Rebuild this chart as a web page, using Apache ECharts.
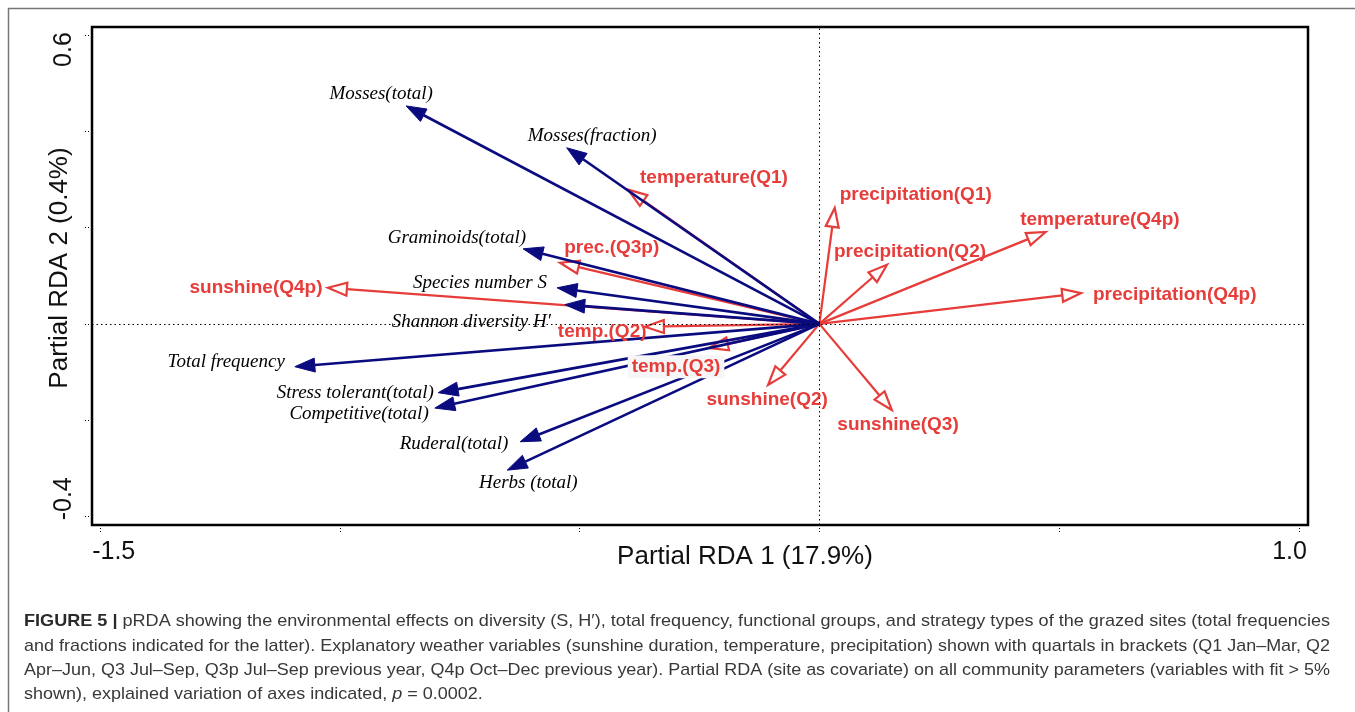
<!DOCTYPE html>
<html>
<head>
<meta charset="utf-8">
<script src="https://cdn.jsdelivr.net/npm/echarts@6/dist/echarts.min.js"></script>
<style>
html,body{margin:0;padding:0;background:#fff;}
#c{width:1355px;height:712px;}
</style>
</head>
<body>
<div id="c"></div>
<script>
// ---------- data ----------
const speciesNames = ['Mosses(total)','Mosses(fraction)','Graminoids(total)','Species number S','Shannon diversity H\u2032','Total frequency','Stress tolerant(total)','Competitive(total)','Ruderal(total)','Herbs (total)'];
const speciesX = [-0.862,-0.527,-0.618,-0.547,-0.531,-1.094,-0.795,-0.802,-0.624,-0.651];
const speciesY = [0.453,0.366,0.156,0.075,0.040,-0.089,-0.143,-0.175,-0.245,-0.304];
const speciesLabelX = [-0.914,-0.474,-0.756,-0.708,-0.726,-1.237,-0.968,-0.960,-0.762,-0.607];
const speciesLabelY = [0.478,0.391,0.179,0.085,0.004,-0.079,-0.143,-0.187,-0.250,-0.331];

const envNames = ['temperature(Q1)','prec.(Q3p)','sunshine(Q4p)','temp.(Q2)','temp.(Q3)','sunshine(Q2)','sunshine(Q3)','precipitation(Q1)','precipitation(Q2)','temperature(Q4p)','precipitation(Q4p)'];
const envX = [-0.399,-0.541,-1.025,-0.364,-0.230,-0.107,0.151,0.032,0.141,0.472,0.546];
const envY = [0.279,0.127,0.075,-0.006,-0.050,-0.127,-0.179,0.241,0.123,0.191,0.064];
const envLabelX = [-0.220,-0.433,-1.175,-0.453,-0.299,-0.109,0.164,0.201,0.189,0.585,0.741];
const envLabelY = [0.303,0.158,0.075,-0.017,-0.089,-0.158,-0.209,0.268,0.150,0.216,0.060];

const xTicks = [-1.5,-1.0,-0.5,0,0.5,1.0];
const yTicks = [-0.4,-0.2,0,0.2,0.4,0.6];
const xTickLabelValues = [-1.5,1.0];
const xTickLabels = ['-1.5','1.0'];
const yTickLabelValues = [-0.4,0.6];
const yTickLabels = ['-0.4','0.6'];
const xTitle = 'Partial RDA 1 (17.9%)';
const yTitle = 'Partial RDA 2 (0.4%)';

const captionLines = [
  [['b','FIGURE 5 |'],['n',' pRDA showing the environmental effects on diversity (S, H\u2032), total frequency, functional groups, and strategy types of the grazed sites (total frequencies']],
  [['n','and fractions indicated for the latter). Explanatory weather variables (sunshine duration, temperature, precipitation) shown with quartals in brackets (Q1 Jan\u2013Mar, Q2']],
  [['n','Apr\u2013Jun, Q3 Jul\u2013Sep, Q3p Jul\u2013Sep previous year, Q4p Oct\u2013Dec previous year). Partial RDA (site as covariate) on all community parameters (variables with fit > 5%']],
  [['n','shown), explained variation of axes indicated, '],['i','p'],['n',' = 0.0002.']]
];

// ---------- styles ----------
const RED = '#e63c3a';
const BLUE = '#0b0b80';

function arrowRenderer(color, filled, lw, headLen, headHalf) {
  return function (params, api) {
    const o = api.coord([0, 0]);
    const t = api.coord([api.value(0), api.value(1)]);
    const dx = t[0] - o[0], dy = t[1] - o[1];
    const len = Math.hypot(dx, dy) || 1;
    const ux = dx / len, uy = dy / len, nx = -uy, ny = ux;
    const bx = t[0] - ux * headLen, by = t[1] - uy * headLen;
    return {
      type: 'group',
      children: [
        { type: 'line', shape: { x1: o[0], y1: o[1], x2: bx, y2: by },
          style: { stroke: color, lineWidth: lw } },
        { type: 'polygon',
          shape: { points: [[t[0], t[1]], [bx + nx * headHalf, by + ny * headHalf], [bx - nx * headHalf, by - ny * headHalf]] },
          style: { fill: filled ? color : '#fff', stroke: color, lineWidth: filled ? 1 : lw, lineJoin: 'miter' } }
      ]
    };
  };
}

const chart = echarts.init(document.getElementById('c'), null, { renderer: 'canvas' });

const option = {
  animation: false,
  backgroundColor: '#fff',
  grid: { left: 92, top: 27, width: 1216, height: 498, show: true, borderColor: '#000', borderWidth: 2.5, backgroundColor: 'transparent', containLabel: false, outerBoundsMode: 'none' },
  xAxis: {
    type: 'value', min: -1.517, max: 1.019,
    axisLine: { show: false, onZero: false },
    axisTick: { show: true, customValues: xTicks, length: 9, inside: false, lineStyle: { color: '#000', width: 1, type: [1, 2] } },
    axisLabel: { show: false },
    splitLine: { show: false }
  },
  yAxis: {
    type: 'value', min: -0.418, max: 0.617,
    axisLine: { show: false, onZero: false },
    axisTick: { show: true, customValues: yTicks, length: 9, inside: false, lineStyle: { color: '#000', width: 1, type: [1, 2] } },
    axisLabel: { show: false },
    splitLine: { show: false }
  },
  series: [
    {
      type: 'scatter', z: 1, silent: true, symbolSize: 0,
      data: [[0, 0]],
      markLine: {
        silent: true, symbol: 'none', animation: false,
        label: { show: false },
        lineStyle: { color: '#000', width: 1, type: [1.5, 3], opacity: 1 },
        data: [{ xAxis: 0 }, { yAxis: 0 }]
      }
    },
    {
      type: 'custom', z: 2, silent: true, clip: false,
      renderItem: arrowRenderer(RED, false, 2.2, 19, 6.5),
      data: envX.map((x, i) => [x, envY[i]])
    },
    {
      type: 'custom', z: 3, silent: true, clip: false,
      renderItem: arrowRenderer(BLUE, true, 2.6, 20, 7),
      data: speciesX.map((x, i) => [x, speciesY[i]])
    },
    {
      type: 'scatter', z: 5, silent: true, symbolSize: 1,
      itemStyle: { color: 'rgba(0,0,0,0)', opacity: 1 },
      data: speciesNames.map((n, i) => ({ name: n, value: [speciesLabelX[i], speciesLabelY[i]] })),
      label: { show: true, position: 'inside', formatter: '{b}', fontFamily: 'Liberation Serif', fontStyle: 'italic', fontSize: 19, color: '#000', opacity: 1 },
      emphasis: { disabled: true }
    },
    {
      type: 'scatter', z: 6, silent: true, symbolSize: 1,
      itemStyle: { color: 'rgba(0,0,0,0)', opacity: 1 },
      data: envNames.map((n, i) => {
        const d = { name: n, value: [envLabelX[i], envLabelY[i]] };
        if (n === 'temp.(Q3)') d.label = { backgroundColor: '#f6f6f6', padding: [3, 4, 1, 4] };
        return d;
      }),
      label: { show: true, position: 'inside', formatter: '{b}', fontFamily: 'Liberation Sans', fontWeight: 'bold', fontSize: 19, color: RED, opacity: 1 },
      emphasis: { disabled: true }
    }
  ]
};
chart.setOption(option);

// ---------- tick labels, titles, caption, outer frame ----------
const graphics = [];
const TICKFONT = { fontFamily: 'Liberation Sans', fontSize: 25, fill: '#111' };

xTickLabelValues.forEach((v, i) => {
  const p = chart.convertToPixel({ gridIndex: 0 }, [v, 0]);
  const first = i === 0;
  graphics.push({ type: 'text', x: first ? p[0] - 8 : p[0] + 8, y: 552, silent: true,
    style: Object.assign({ text: xTickLabels[i], textAlign: first ? 'left' : 'right', textVerticalAlign: 'middle' }, TICKFONT) });
});
yTickLabelValues.forEach((v, i) => {
  const p = chart.convertToPixel({ gridIndex: 0 }, [0, v]);
  const first = i === 0;
  graphics.push({ type: 'text', x: 64, y: first ? p[1] + 4 : p[1] - 3, rotation: Math.PI / 2, silent: true,
    style: Object.assign({ text: yTickLabels[i], textAlign: first ? 'left' : 'right', textVerticalAlign: 'middle' }, TICKFONT) });
});
graphics.push({ type: 'text', x: 745, y: 557, silent: true,
  style: { text: xTitle, textAlign: 'center', textVerticalAlign: 'middle', fontFamily: 'Liberation Sans', fontSize: 26, fill: '#111' } });
graphics.push({ type: 'text', x: 60, y: 268, rotation: Math.PI / 2, silent: true,
  style: { text: yTitle, textAlign: 'center', textVerticalAlign: 'middle', fontFamily: 'Liberation Sans', fontSize: 26, fill: '#111' } });

// outer figure frame
graphics.push({ type: 'line', silent: true, shape: { x1: 8, y1: 8.5, x2: 1355, y2: 8.5 }, style: { stroke: '#777', lineWidth: 1.5 } });
graphics.push({ type: 'line', silent: true, shape: { x1: 8.5, y1: 8, x2: 8.5, y2: 712 }, style: { stroke: '#777', lineWidth: 1.5 } });

// caption
const CAP_SIZE = 17;
const CAP_FAMILY = '"Liberation Sans"';
const capStyles = {
  b: { fontWeight: 'bold', fontSize: CAP_SIZE, fontFamily: 'Liberation Sans', fill: '#2a2a2a' },
  n: { fontSize: CAP_SIZE, fontFamily: 'Liberation Sans', fill: '#383838' },
  i: { fontStyle: 'italic', fontSize: CAP_SIZE, fontFamily: 'Liberation Sans', fill: '#383838' }
};
const ctx = document.createElement('canvas').getContext('2d');
function segFont(k) {
  if (k === 'b') return 'bold ' + CAP_SIZE + 'px ' + CAP_FAMILY;
  if (k === 'i') return 'italic ' + CAP_SIZE + 'px ' + CAP_FAMILY;
  return CAP_SIZE + 'px ' + CAP_FAMILY;
}
function lineWidth(segs) {
  let w = 0;
  segs.forEach(s => { ctx.font = segFont(s[0]); w += ctx.measureText(s[1]).width; });
  return w;
}
const capLeft = 24, capRight = 1330, capY = [621, 646, 670, 694];
const scales = captionLines.slice(0, 3).map(l => (capRight - capLeft) / lineWidth(l));
const avgScale = scales.reduce((a, b) => a + b, 0) / scales.length;
captionLines.forEach((segs, li) => {
  const txt = segs.map(s => '{' + s[0] + '|' + s[1] + '}').join('');
  graphics.push({ type: 'text', x: capLeft, y: capY[li], scaleX: li < 3 ? scales[li] : avgScale, silent: true,
    style: { text: txt, rich: capStyles, textAlign: 'left', textVerticalAlign: 'middle', fontSize: CAP_SIZE, fontFamily: 'Liberation Sans', fill: '#383838' } });
});

chart.setOption({ graphic: { elements: graphics } });
</script>
</body>
</html>
